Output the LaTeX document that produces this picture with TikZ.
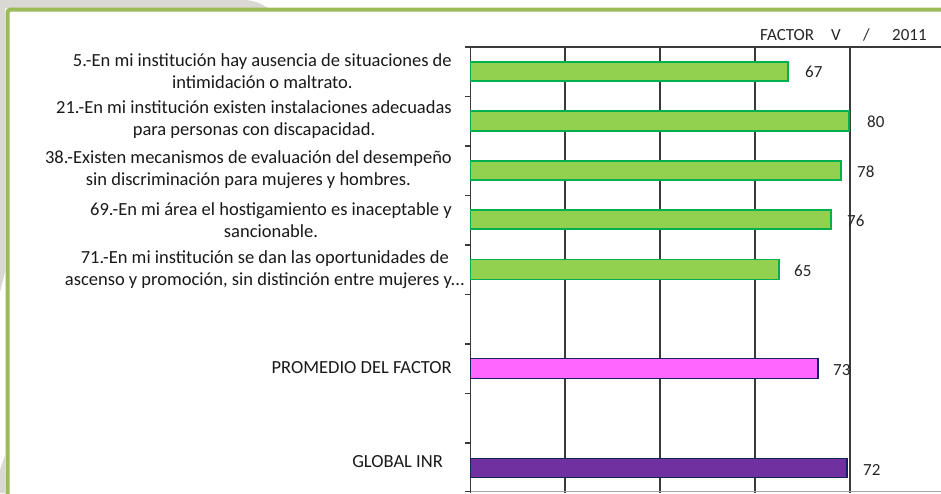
\documentclass[tikz,border=0pt]{standalone}
\usepackage{fontspec}
\setmainfont{Carlito}
\definecolor{frameg}{HTML}{9BBB59}
\definecolor{bgray}{HTML}{D9D8D2}
\definecolor{barg}{HTML}{92D050}
\definecolor{barb}{HTML}{00B050}
\definecolor{pinkf}{HTML}{FF66FF}
\definecolor{navy}{HTML}{14245E}
\definecolor{purp}{HTML}{7030A0}
\definecolor{gridc}{HTML}{3A3A3A}
\begin{document}
\begin{tikzpicture}[x=1pt,y=-1pt,
  lbl/.style={font=\fontsize{18.5}{22}\selectfont, align=center, inner sep=0pt, anchor=east, text=black!90},
  val/.style={font=\fontsize{17}{20}\selectfont, inner sep=0pt, anchor=west, text=black!85},
  gbar/.style={fill=barg, draw=barb, line width=1.8pt},
  pbar/.style={fill=pinkf, draw=navy, line width=1.8pt},
  ubar/.style={fill=purp, draw=navy, line width=1.8pt},
  gridl/.style={draw=gridc, line width=1.1pt},
  tick/.style={draw=gridc, line width=1.1pt}]
\useasboundingbox (0,0) rectangle (941,493);
% background tab
\fill[bgray] (0,0) -- (245,0) .. controls (256,1) and (262,4) .. (268,8) -- (0,8) -- cycle;
\fill[bgray] (0,8) -- (5,8) -- (5,272) -- (0,292) -- cycle;
\fill[bgray] (0,470) -- (5,455) -- (5,493) -- (0,493) -- cycle;
% frame
\draw[frameg, line width=4pt, rounded corners=3pt] (7.5,500) -- (7.5,9.5) -- (950,9.5);
% grid
\foreach \x in {565,660,755,850} \draw[gridl] (\x,47) -- (\x,493);
\draw[gridl] (470.5,47) -- (941,47);
\draw[draw=gray!70, line width=1.1pt] (470.5,491.5) -- (941,491.5);
\draw[gridl] (470.5,47) -- (470.5,493);
\foreach \y in {47,96.5,146,195.5,245,294.5,344,393.5,443,491.5} \draw[tick] (465,\y) -- (470.5,\y);
% bars
\path[gbar] (470.5,62) rectangle (788,81);
\path[gbar] (470.5,111) rectangle (849,131);
\path[gbar] (470.5,161) rectangle (841,180);
\path[gbar] (470.5,210) rectangle (831,229);
\path[gbar] (470.5,259.5) rectangle (779,279.5);
\path[pbar] (470.5,358.5) rectangle (818,378.5);
\path[ubar] (470.5,458.5) rectangle (847,477.5);
% value labels
\node[val] (v1) at (805,72) {67};
\node[val] (v2) at (867,122) {80};
\node[val] (v3) at (857,172) {78};
\node[val] (v4) at (847,221) {76};
\node[val] (v5) at (794,271) {65};
\node[val] (v6) at (833,370) {73};
\node[val] (v7) at (863,470) {72};
% title
\node[val] (t1) at (760,35) {FACTOR};
\node[val] (t0) at (831,35) {V};
\node[val] (t2) at (863,35) {/};
\node[val] (t3) at (892,35) {2011};
% category labels
\node[lbl] (c1) at (452,71) {5.-En mi institución hay ausencia de situaciones de\\intimidación o maltrato.};
\node[lbl] (c2) at (452,120) {21.-En mi institución existen instalaciones adecuadas\\para personas con discapacidad.};
\node[lbl] (c3) at (452,170) {38.-Existen mecanismos de evaluación del desempeño\\sin discriminación para mujeres y hombres.};
\node[lbl] (c4) at (452,220) {69.-En mi área el hostigamiento es inaceptable y\\sancionable.};
\node[lbl] (c5) at (465,270) {71.-En mi institución se dan las oportunidades de\\ascenso y promoción, sin distinción entre mujeres y...};
\node[lbl] (c6) at (452,368) {PROMEDIO DEL FACTOR};
\node[lbl] (c7) at (443,462) {GLOBAL INR};
\end{tikzpicture}
\end{document}
